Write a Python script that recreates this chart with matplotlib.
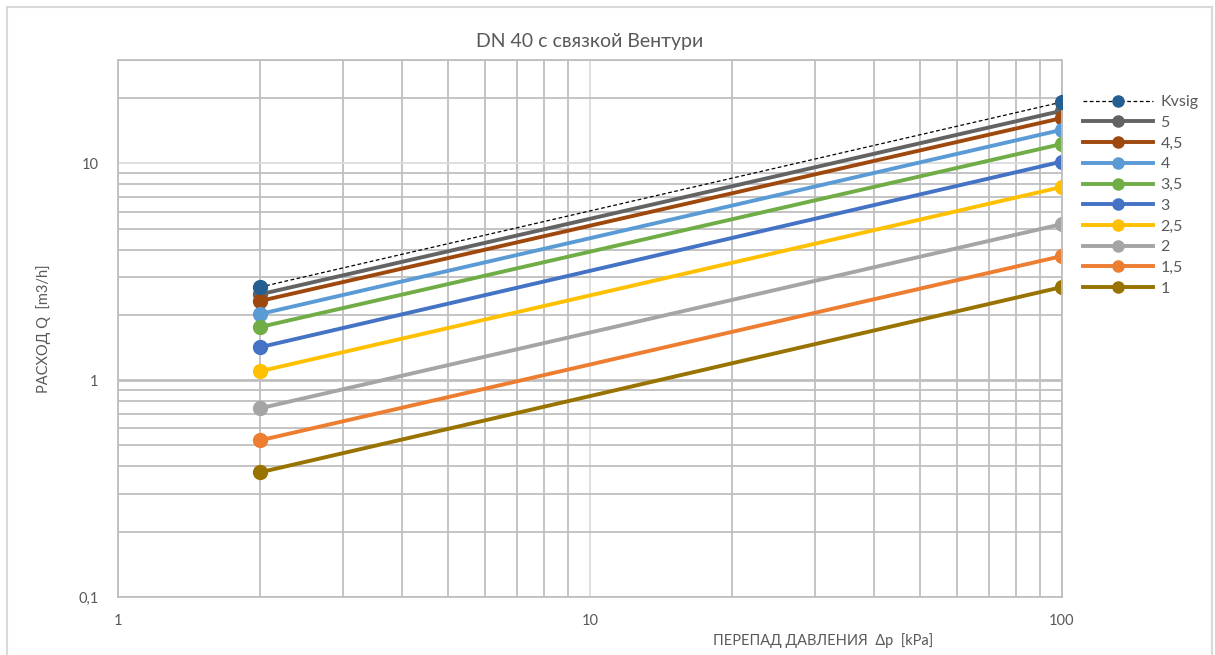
import numpy as np
import matplotlib.pyplot as plt
from matplotlib.patches import Rectangle

plt.rcParams['font.family'] = ['Lato', 'DejaVu Sans']

# pressure drop points [kPa]
dp = [2, 100]

series_names = ['Kvsig', '5', '4,5', '4', '3,5', '3', '2,5', '2', '1,5', '1']
q_kvsig = [2.69, 19.2]
q_5 = [2.49, 17.5]
q_45 = [2.32, 16.2]
q_4 = [2.02, 14.3]
q_35 = [1.76, 12.3]
q_3 = [1.42, 10.2]
q_25 = [1.10, 7.79]
q_2 = [0.742, 5.25]
q_15 = [0.528, 3.74]
q_1 = [0.376, 2.69]
series_values = [q_kvsig, q_5, q_45, q_4, q_35, q_3, q_25, q_2, q_15, q_1]

colors = ['#255E91', '#636363', '#9E480E', '#5B9BD5', '#70AD47',
          '#4472C4', '#FFC000', '#A5A5A5', '#ED7D31', '#997300']

x_ticks = [1, 10, 100]
x_labels = ['1', '10', '100']
y_ticks = [0.1, 1, 10]
y_labels = ['0,1', '1', '10']

fig = plt.figure(figsize=(12.15, 6.55), dpi=100)
ax = fig.add_axes([118 / 1215, 58 / 655, (1062 - 118) / 1215, (597 - 60) / 655])

# chart border
fig.patches.append(Rectangle((7 / 1215, -0.01), 1205 / 1215, 1 - 7 / 655 + 0.01,
                             transform=fig.transFigure, facecolor='none',
                             edgecolor='#d9d9d9', linewidth=1.5))

ax.set_xscale('log')
ax.set_yscale('log')
ax.set_xlim(1, 100)
ax.set_ylim(0.1, 30)

# grid: minor lines gray, decade lines at 10 lighter
grid_col = '#bfbfbf'
for xv in [v * d for d in (1, 10) for v in range(1, 10)] + [100]:
    c = '#dcdcdc' if xv == 10 else grid_col
    ax.axvline(xv, color=c, linewidth=1.3, zorder=0)
for yv in [v * d for d in (0.1, 1, 10) for v in range(1, 10)]:
    if yv > 30:
        continue
    c = '#dcdcdc' if abs(yv - 10) < 1e-9 else grid_col
    lw = 2.0 if abs(yv - 1) < 1e-9 else 1.3
    ax.axhline(yv, color=c, linewidth=lw, zorder=0)

for sp in ax.spines.values():
    sp.set_color(grid_col)
    sp.set_linewidth(1.3)

for name, vals, col in zip(series_names, series_values, colors):
    if name == 'Kvsig':
        ax.plot(dp, vals, color='black', linestyle=(0, (3, 2)), linewidth=0.9,
                marker='o', markersize=10, markerfacecolor=col,
                markeredgecolor=col, label=name, zorder=3)
    else:
        ax.plot(dp, vals, color=col, linewidth=2.8, marker='o', markersize=10,
                markerfacecolor=col, markeredgecolor=col, label=name, zorder=2)

ax.set_xticks(x_ticks)
ax.set_xticklabels(x_labels)
ax.set_xticks([], minor=True)
ax.set_yticks(y_ticks)
ax.set_yticklabels(y_labels)
ax.set_yticks([], minor=True)
ax.tick_params(axis='both', length=0, labelsize=10.5, labelcolor='#595959')
ax.tick_params(axis='x', pad=12)
ax.tick_params(axis='y', pad=14)

ax.set_title('DN 40 с связкой Вентури', fontsize=14, color='#595959', pad=9)
ax.set_ylabel('РАСХОД Q  [m3/h]', fontsize=10.5, color='#595959', labelpad=20)
fig.text(823 / 1215, 1 - 641 / 655, 'ПЕРЕПАД ДАВЛЕНИЯ  Δp  [kPa]', fontsize=10.5,
         color='#595959', ha='center', va='center')

leg = ax.legend(loc='upper left', bbox_to_anchor=(1083 / 1215, 1 - 95 / 655),
                bbox_transform=fig.transFigure, frameon=False, fontsize=11.5,
                handlelength=4.4, labelspacing=0.41, handletextpad=0.45,
                borderaxespad=0, borderpad=0, markerscale=0.8)
for t in leg.get_texts():
    t.set_color('#595959')

fig.savefig('out.png', dpi=100, facecolor='white')
